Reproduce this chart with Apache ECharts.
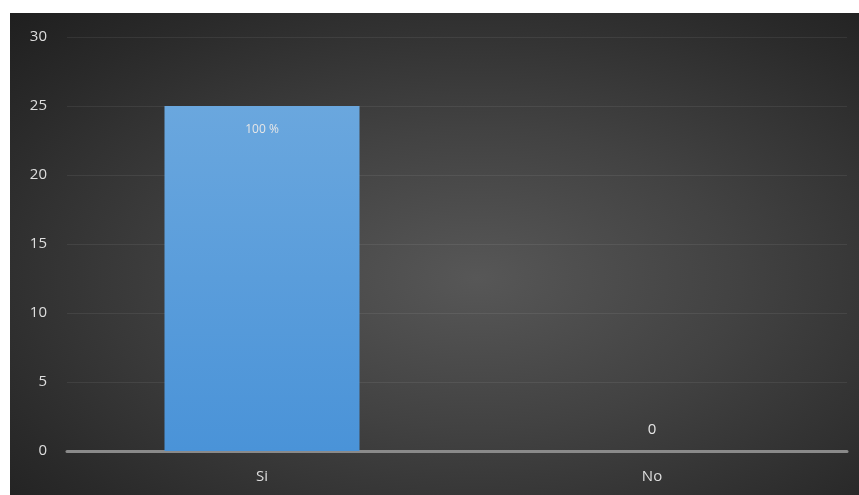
<!DOCTYPE html>
<html><head><meta charset="utf-8">
<script src="https://cdn.jsdelivr.net/npm/echarts@6/dist/echarts.min.js"></script>
<style>
html,body{margin:0;padding:0;background:#fff;}
#bg{position:absolute;left:10px;top:13px;right:0;bottom:0;background:radial-gradient(ellipse at 55% 55%, #575757 0%, #424242 40%, #2a2a2a 80%, #1f1f1f 100%);}
#chart{position:absolute;left:0;top:0;width:859px;height:495px;}
</style></head>
<body>
<div id="bg"></div>
<div id="chart"></div>
<script>
const categories = ['Si', 'No'];
const values = [25, 0];
const valueLabels = ['100 %', '0'];
const yTicks = [0, 5, 10, 15, 20, 25, 30];

const chart = echarts.init(document.getElementById('chart'));
chart.setOption({
  backgroundColor: 'transparent',
  animation: false,
  grid: {left: 67, right: 12, top: 37, bottom: 44},
  xAxis: {
    type: 'category', data: categories,
    axisLine: {show: true, lineStyle: {color: '#8a8a8a', width: 3}},
    axisTick: {show: false},
    axisLabel: {color: '#dedede', fontSize: 15, fontFamily: 'Open Sans', margin: 18}
  },
  yAxis: {
    type: 'value', min: yTicks[0], max: yTicks[yTicks.length-1], interval: 5,
    axisLine: {show: false}, axisTick: {show: false},
    axisLabel: {color: '#dedede', fontSize: 15, fontFamily: 'Open Sans', margin: 20},
    splitLine: {show: true, lineStyle: {color: 'rgba(255,255,255,0.07)', width: 1}}
  },
  series: [{
    type: 'bar', barWidth: '50%',
    data: values.map((v, i) => v === 0 ? {value: v, label: {position: 'top', distance: 14, fontSize: 15}} : v),
    itemStyle: {color: new echarts.graphic.LinearGradient(0,0,0,1,[{offset:0,color:'#6aa7de'},{offset:1,color:'#4a93d8'}])},
    label: {
      show: true, position: 'insideTop', distance: 18,
      color: '#e6e6e6', fontSize: 12, fontFamily: 'Open Sans',
      formatter: p => valueLabels[p.dataIndex]
    }
  }]
});
</script>
</body></html>
